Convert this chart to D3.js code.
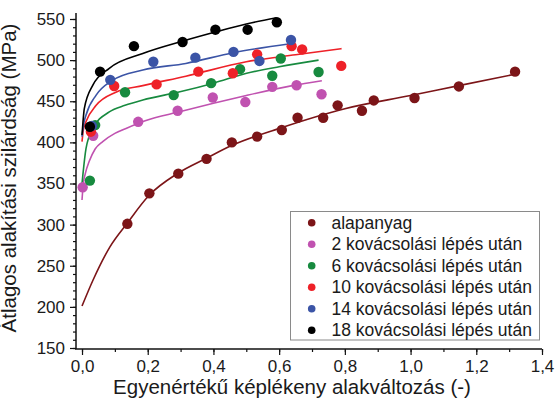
<!DOCTYPE html>
<html>
<head>
<meta charset="utf-8">
<script src="https://cdn.jsdelivr.net/npm/d3@7"></script>
<style>
  body { margin: 0; background: #fff; }
  svg { display: block; font-family: "Liberation Sans", Arial, sans-serif; }
</style>
</head>
<body>
<svg id="chart" width="557" height="404"></svg>
<script>
/* measured points (x = strain, y = MPa) */
var alapanyagPts = [[0.138,301],[0.205,338],[0.293,362],[0.379,380],[0.456,400],[0.533,407],[0.608,415],
  [0.656,430],[0.734,430],[0.778,445],[0.852,438.5],[0.888,451],[1.012,454],[1.147,468],[1.318,486]];
var lepes2Pts = [[0.002,345.5],[0.034,408],[0.171,425],[0.291,438.5],[0.398,454.5],[0.497,449],
  [0.579,467.5],[0.653,469.5],[0.729,458.5]];
var lepes6Pts = [[0.024,353.5],[0.040,421],[0.131,461],[0.279,457.5],[0.393,472],[0.481,489],
  [0.579,481],[0.605,502],[0.720,485.5]];
var lepes10Pts = [[0.027,413],[0.098,468.5],[0.227,470.5],[0.354,486],[0.459,484],[0.533,507],
  [0.638,517],[0.670,513],[0.789,493]];
var lepes14Pts = [[0.030,420],[0.086,476],[0.217,498],[0.345,503],[0.461,510],[0.540,499],[0.636,524.5]];
var lepes18Pts = [[0.024,419],[0.055,486],[0.158,517],[0.306,522],[0.406,537],[0.504,537],[0.593,546]];

/* fitted curves */
var alapanyagFit = [[0,201],[0.034,233],[0.085,273],[0.138,302],[0.205,336],[0.29,362],[0.38,381],
  [0.46,397],[0.6,417],[0.8,441],[1.0,457],[1.147,469],[1.32,483]];
var lepes2Fit = [[0,330],[0.004,350],[0.01,362],[0.022,377],[0.04,392],[0.063,401],[0.1,411],
  [0.134,417],[0.19,426],[0.3,437.5],[0.4,447.5],[0.5,457],[0.64,469],[0.73,475]];
var lepes6Fit = [[0,350],[0.003,362],[0.012,392],[0.033,417],[0.083,437],[0.131,445],[0.185,451.5],
  [0.298,461.5],[0.4,472],[0.501,484],[0.6,492],[0.72,500]];
var lepes10Fit = [[0,401],[0.004,415],[0.012,425],[0.043,445],[0.103,461],[0.185,469],[0.316,480.5],
  [0.5,498],[0.65,506.5],[0.79,514]];
var lepes14Fit = [[0,407],[0.004,420],[0.012,433],[0.043,457.5],[0.093,475.5],[0.185,488],[0.316,496],
  [0.46,509],[0.633,520]];
var lepes18Fit = [[0,409],[0.003,425],[0.007,441],[0.033,469.5],[0.083,490],[0.185,508],[0.306,523],
  [0.4,533.5],[0.5,544],[0.592,551.5]];

var seriesNames = ["alapanyag", "2 kovácsolási lépés után", "6 kovácsolási lépés után",
  "10 kovácsolási lépés után", "14 kovácsolási lépés után", "18 kovácsolási lépés után"];
var seriesColors = ["#7c1518", "#c052b0", "#178a3f", "#ee2128", "#3b54a6", "#000000"];
var xTicks = [0, 0.2, 0.4, 0.6, 0.8, 1.0, 1.2, 1.4];
var yTicks = [150, 200, 250, 300, 350, 400, 450, 500, 550];

var allPts = [alapanyagPts, lepes2Pts, lepes6Pts, lepes10Pts, lepes14Pts, lepes18Pts];
var allFits = [alapanyagFit, lepes2Fit, lepes6Fit, lepes10Fit, lepes14Fit, lepes18Fit];

var svg = d3.select("#chart");

var x = d3.scaleLinear().domain([-0.0183, 1.4]).range([76, 542]);
var y = d3.scaleLinear().domain([150, 550]).range([348, 19]);

var fmt = function(d) { return d3.format(".1f")(d).replace(".", ","); };

// y axis
var yAxis = svg.append("g").attr("transform", "translate(76,0)");
yAxis.call(d3.axisLeft(y).tickValues(d3.range(150, 551, 10)).tickSize(3).tickFormat(""));
yAxis.append("g").call(d3.axisLeft(y).tickValues(yTicks).tickSize(6).tickPadding(5));
yAxis.selectAll(".domain").remove();
svg.append("line").attr("x1", 76).attr("x2", 76).attr("y1", 13).attr("y2", 349)
  .attr("stroke", "#111").attr("stroke-width", 1.5);

// x axis
var xAxis = svg.append("g").attr("transform", "translate(0,349)");
xAxis.call(d3.axisBottom(x).tickValues(d3.range(0, 1.41, 0.1)).tickSize(3).tickFormat(""));
xAxis.append("g").call(d3.axisBottom(x).tickValues(xTicks).tickSize(6).tickPadding(5).tickFormat(fmt));
xAxis.selectAll(".domain").remove();
svg.append("line").attr("x1", 75).attr("x2", 542).attr("y1", 349).attr("y2", 349)
  .attr("stroke", "#111").attr("stroke-width", 1.5);

svg.selectAll(".tick line").attr("stroke", "#111").attr("stroke-width", 1.2);
svg.selectAll(".tick text").attr("font-size", "17px").attr("fill", "#1a1a1a")
  .attr("font-family", "Liberation Sans, Arial, sans-serif");

// axis titles
svg.append("text")
  .attr("x", 292).attr("y", 394)
  .attr("text-anchor", "middle")
  .attr("font-size", "20.5px").attr("fill", "#1a1a1a")
  .text("Egyenértékű képlékeny alakváltozás (-)");
svg.append("text")
  .attr("transform", "translate(16,178) rotate(-90)")
  .attr("text-anchor", "middle")
  .attr("font-size", "20.5px").attr("fill", "#1a1a1a")
  .text("Átlagos alakítási szilárdság (MPa)");

// curves + points
var line = d3.line()
  .x(function(d) { return x(d[0]); })
  .y(function(d) { return y(d[1]); })
  .curve(d3.curveMonotoneX);

allFits.forEach(function(fit, i) {
  svg.append("path").datum(fit)
    .attr("d", line)
    .attr("fill", "none")
    .attr("stroke", seriesColors[i])
    .attr("stroke-width", 1.6);
});

allPts.forEach(function(pts, i) {
  svg.append("g").selectAll("circle")
    .data(pts)
    .enter()
    .append("circle")
      .attr("cx", function(d) { return x(d[0]); })
      .attr("cy", function(d) { return y(d[1]); })
      .attr("r", 5.2)
      .attr("fill", seriesColors[i]);
});

// legend
var legend = svg.append("g");
legend.append("rect")
  .attr("x", 290.5).attr("y", 211.5).attr("width", 249).attr("height", 128.5)
  .attr("fill", "#fff").attr("stroke", "#8a8a8a").attr("stroke-width", 1);
var rows = legend.selectAll("g.row")
  .data(seriesNames)
  .enter()
  .append("g")
    .attr("class", "row")
    .attr("transform", function(d, i) { return "translate(0," + (222.7 + i * 21.5) + ")"; });
rows.append("circle")
  .attr("cx", 311.7).attr("cy", 0).attr("r", 3.8)
  .attr("fill", function(d, i) { return seriesColors[i]; });
rows.append("text")
  .attr("x", 331.5).attr("y", 6)
  .attr("font-size", "17.5px").attr("fill", "#1a1a1a")
  .text(function(d) { return d; });
</script>
</body>
</html>
